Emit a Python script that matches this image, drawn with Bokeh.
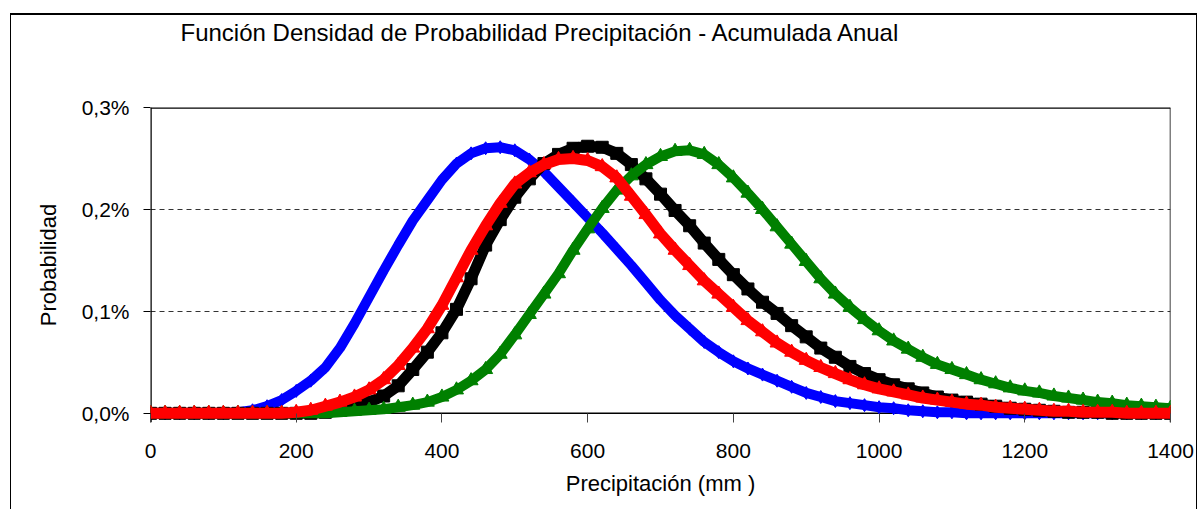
from bokeh.plotting import figure
from bokeh.models import ColumnDataSource, FixedTicker, Span, Range1d, Title
from bokeh.embed import file_html
from bokeh.resources import INLINE

# Precipitation (mm)
precip_mm = [0, 20, 40, 60, 80, 100, 120, 140, 160, 180, 200, 220, 240, 260, 280, 300,
             320, 340, 360, 380, 400, 420, 440, 460, 480, 500,
             520, 540, 560, 580, 600, 620, 640, 660, 680, 700,
             720, 740, 760, 780, 800, 820, 840, 860, 880, 900,
             920, 940, 960, 980, 1000, 1020, 1040, 1060, 1080, 1100,
             1120, 1140, 1160, 1180, 1200, 1220, 1240, 1260, 1280, 1300,
             1320, 1340, 1360, 1380, 1400]

# Probability density (%)
blue_pdf = [0, 0, 0, 0, 0, 0,
            0.001, 0.003, 0.007, 0.013, 0.022, 0.032, 0.045, 0.064, 0.088, 0.114,
            0.140, 0.165, 0.189, 0.209, 0.229, 0.245, 0.255, 0.260, 0.261, 0.258,
            0.249, 0.237, 0.222, 0.207, 0.192, 0.177, 0.161, 0.145, 0.128, 0.111,
            0.096, 0.083, 0.070, 0.060, 0.051, 0.044, 0.038, 0.032, 0.026, 0.020,
            0.016, 0.012, 0.010, 0.008, 0.006, 0.005, 0.003, 0.002, 0.001, 0.001,
            0, 0, 0, 0, 0, 0, 0, 0, 0, 0, 0, 0, 0, 0, 0]

black_pdf = [0, 0, 0, 0, 0, 0, 0, 0, 0, 0, 0, 0,
             0.001, 0.003, 0.007, 0.011,
             0.017, 0.027, 0.043, 0.060, 0.079, 0.102, 0.132, 0.165, 0.190, 0.212,
             0.230, 0.245, 0.254, 0.260, 0.262, 0.261, 0.255, 0.244, 0.230, 0.215,
             0.199, 0.184, 0.167, 0.151, 0.136, 0.122, 0.109, 0.098, 0.086, 0.075,
             0.064, 0.055, 0.046, 0.039, 0.033, 0.028, 0.024, 0.020, 0.016, 0.013,
             0.011, 0.009, 0.007, 0.005, 0.004, 0.003, 0.002, 0.001, 0.001, 0.001,
             0, 0, 0, 0, 0]

red_pdf = [0, 0, 0, 0, 0, 0, 0, 0, 0, 0,
           0.001, 0.003, 0.007, 0.011, 0.016, 0.023,
           0.033, 0.047, 0.064, 0.083, 0.106, 0.133, 0.160, 0.184, 0.206, 0.225,
           0.236, 0.244, 0.249, 0.250, 0.248, 0.242, 0.231, 0.213, 0.195, 0.176,
           0.160, 0.145, 0.130, 0.117, 0.104, 0.091, 0.080, 0.069, 0.060, 0.052,
           0.045, 0.039, 0.033, 0.028, 0.024, 0.021, 0.018, 0.015, 0.013, 0.011,
           0.009, 0.008, 0.006, 0.005, 0.004, 0.003, 0.002, 0.002, 0.001, 0.001,
           0.001, 0, 0, 0, 0]

green_pdf = [0, 0, 0, 0, 0, 0, 0, 0, 0, 0, 0, 0, 0,
             0.001, 0.002, 0.003,
             0.004, 0.006, 0.008, 0.011, 0.016, 0.023, 0.032, 0.043, 0.058, 0.077,
             0.097, 0.117, 0.137, 0.160, 0.181, 0.201, 0.219, 0.233, 0.244, 0.252,
             0.257, 0.258, 0.254, 0.244, 0.231, 0.216, 0.200, 0.183, 0.166, 0.149,
             0.132, 0.117, 0.104, 0.092, 0.081, 0.071, 0.063, 0.055, 0.048, 0.043,
             0.038, 0.033, 0.029, 0.025, 0.022, 0.020, 0.017, 0.015, 0.013, 0.011,
             0.010, 0.008, 0.007, 0.006, 0.005]

x_ticks = [0, 200, 400, 600, 800, 1000, 1200, 1400]
y_ticks = [0, 0.1, 0.2, 0.3]
y_tick_labels = {0: "0,0%", 0.1: "0,1%", 0.2: "0,2%", 0.3: "0,3%"}

title_text = "Función Densidad de Probabilidad Precipitación - Acumulada Anual"
x_label = "Precipitación (mm )"
y_label = "Probabilidad"

FONT = "Liberation Sans"

src = ColumnDataSource(dict(x=precip_mm, blue=blue_pdf, black=black_pdf,
                            red=red_pdf, green=green_pdf))

p = figure(width=1187, height=496, output_backend="svg", toolbar_location=None,
           x_range=Range1d(0, 1400), y_range=Range1d(-0.009, 0.3),
           min_border_left=139, min_border_right=28, min_border_top=92,
           min_border_bottom=89, margin=(13, 0, 0, 10),
           styles={"border-left": "1px solid black", "border-top": "2px solid black",
                   "border-right": "1px solid black"},
           background_fill_color="white", border_fill_color="white")

p.outline_line_color = None

# main title (the figure's own title sits outermost in the top panel)
p.title.text = title_text
p.title.text_font = FONT
p.title.text_font_size = "24px"
p.title.text_font_style = "normal"
p.title.text_color = "black"
p.title.align = "left"
p.title.offset = 30
p.title.standoff = 0
p.title.vertical_align = "bottom"

# blank spacer between the frame and the title
p.add_layout(Title(text="\u00a0", text_font=FONT, text_font_size="24px", standoff=33), "above")

# grid
p.xgrid.visible = False
p.ygrid.ticker = FixedTicker(ticks=[0.1, 0.2])
p.ygrid.grid_line_color = "#333333"
p.ygrid.grid_line_dash = "5 4"
p.ygrid.grid_line_width = 1

# frame lines (drawn beneath the curves)
p.add_layout(Span(location=0.3, dimension="width", line_color="black", line_width=2.5, level="underlay"))
p.add_layout(Span(location=1400, dimension="height", line_color="black", line_width=1.5, level="underlay"))
p.add_layout(Span(location=0, dimension="width", line_color="black", line_width=1.5, level="underlay"))
p.add_layout(Span(location=0, dimension="height", line_color="black", line_width=2.5, level="underlay"))

# x axis
xa = p.xaxis[0]
xa.ticker = FixedTicker(ticks=x_ticks)
xa.axis_line_color = None
xa.major_tick_in = 9
xa.major_tick_out = 0
xa.major_tick_line_color = "#444444"
xa.minor_tick_line_color = None
xa.major_label_standoff = 21
xa.major_label_text_font = FONT
xa.major_label_text_font_size = "21px"
xa.major_label_text_color = "black"
xa.axis_label = x_label
xa.axis_label_text_font = FONT
xa.axis_label_text_font_size = "22px"
xa.axis_label_text_font_style = "normal"
xa.axis_label_text_color = "black"
xa.axis_label_standoff = 10

# y axis
ya = p.yaxis[0]
ya.ticker = FixedTicker(ticks=y_ticks)
ya.major_label_overrides = y_tick_labels
ya.axis_line_color = None
ya.major_tick_in = 0
ya.major_tick_out = 7
ya.major_tick_line_color = "black"
ya.minor_tick_line_color = None
ya.major_label_standoff = 14
ya.major_label_text_font = FONT
ya.major_label_text_font_size = "21px"
ya.major_label_text_color = "black"
ya.axis_label = y_label
ya.axis_label_text_font = FONT
ya.axis_label_text_font_size = "22px"
ya.axis_label_text_font_style = "normal"
ya.axis_label_text_color = "black"
ya.axis_label_standoff = 18

# series
p.line("x", "blue", source=src, line_color="blue", line_width=10)
p.scatter("x", "blue", source=src, marker="diamond", size=13, fill_color="blue", line_color="blue")

p.line("x", "black", source=src, line_color="black", line_width=11)
p.scatter("x", "black", source=src, marker="square", size=12, fill_color="black", line_color="black")

p.line("x", "green", source=src, line_color="green", line_width=10)
p.scatter("x", "green", source=src, marker="triangle", size=14, fill_color="green", line_color="green")

p.line("x", "red", source=src, line_color="red", line_width=11)
p.scatter("x", "red", source=src, marker="triangle", size=14, fill_color="red", line_color="red")

open("out.html", "w").write(file_html(p, INLINE))
